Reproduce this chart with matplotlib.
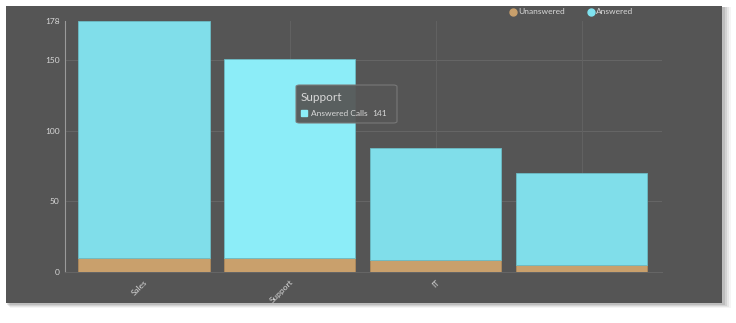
import numpy as np
import matplotlib
matplotlib.use('Agg')
import matplotlib.pyplot as plt
from matplotlib.patches import Rectangle, FancyBboxPatch

plt.rcParams['font.family'] = ['Lato', 'DejaVu Sans']

# dane
categories = ['Sales', 'Support', 'IT', '']
unanswered = [10, 10, 8, 5]
answered = [168, 141, 80, 65]
y_ticks = [0, 50, 100, 150, 178]

tooltip_idx = 1
panel = '#555555'
cyan = '#80deea'
cyan_hi = '#8cedf8'
tan = '#c9a06c'
txt = '#d8d8d8'

W, H = 736, 323
fig = plt.figure(figsize=(W / 100, H / 100), dpi=100)
fig.patch.set_facecolor('white')

# cień + ciemny panel
for i, a in enumerate([0.04, 0.06, 0.08, 0.10]):
    d = 4 - i
    fig.patches.append(Rectangle(((6 + d) / W, (H - 304 - d) / H), (717 + d) / W, (297 + d) / H,
                                 transform=fig.transFigure, facecolor='black', alpha=a,
                                 edgecolor='none', zorder=0))
fig.patches.append(Rectangle((6 / W, (H - 303) / H), 716 / W, 297 / H,
                             transform=fig.transFigure, facecolor=panel,
                             edgecolor='none', zorder=1))

ax = fig.add_axes([65 / W, (H - 271.7) / H, (662 - 65) / W, (271.7 - 20.5) / H])
ax.set_facecolor('none')
ax.set_zorder(2)

x = np.arange(len(categories))
top_colors = [cyan_hi if i == tooltip_idx else cyan for i in range(len(categories))]
ax.bar(x, unanswered, width=0.9, color=tan, edgecolor='#b08a5c', linewidth=0.6, zorder=3)
ax.bar(x, answered, bottom=unanswered, width=0.9, color=top_colors,
       edgecolor='#6cbcc6', linewidth=0.6, zorder=3)

ax.set_xlim(-0.54, 3.55)
ax.set_ylim(0, 178)

for v in [50, 100, 150]:
    ax.axhline(v, color='#666666', lw=0.7, zorder=1)
for xi in x:
    ax.axvline(xi, color='#626262', lw=0.7, zorder=1)

for s in ['top', 'right']:
    ax.spines[s].set_visible(False)
ax.spines['left'].set_color('#9a9a9a')
ax.spines['left'].set_linewidth(0.8)
ax.spines['bottom'].set_color('#666666')
ax.spines['bottom'].set_linewidth(0.7)

ax.set_yticks(y_ticks)
ax.set_yticklabels([str(t) for t in y_ticks], fontsize=6, color=txt)
ax.tick_params(axis='y', length=0, pad=4)
ax.set_xticks(x)
ax.set_xticklabels(categories, rotation=45, ha='right', va='top', fontsize=6, color=txt,
                   rotation_mode='anchor')
ax.tick_params(axis='x', length=0, pad=5)

# legenda
fig.text(518 / W, 1 - 12 / H, 'Unanswered', fontsize=6, color=txt, va='center')
fig.text(596 / W, 1 - 12 / H, 'Answered', fontsize=6, color=txt, va='center')
fig.lines.append(plt.Line2D([513 / W], [1 - 12 / H], marker='o', ms=5, color=tan,
                            transform=fig.transFigure, zorder=5))
fig.lines.append(plt.Line2D([591 / W], [1 - 12 / H], marker='o', ms=5, color='#7fe3f0',
                            transform=fig.transFigure, zorder=5))

# tooltip
fig.patches.append(FancyBboxPatch((296 / W, (H - 123) / H), 101 / W, 38 / H,
                                  boxstyle='round,pad=0,rounding_size=0.005',
                                  transform=fig.transFigure, facecolor='#575757',
                                  edgecolor='#7a7a7a', lw=0.8, alpha=0.95, zorder=6))
fig.text(301 / W, 1 - 98 / H, categories[tooltip_idx], fontsize=8.5, color=txt,
         va='center', zorder=7)
fig.lines.append(plt.Line2D([304 / W], [1 - 113 / H], marker='s', ms=4, color=cyan_hi,
                            transform=fig.transFigure, zorder=7))
fig.text(311 / W, 1 - 113 / H, 'Answered Calls', fontsize=6, color=txt, va='center', zorder=7)
fig.text(372 / W, 1 - 113 / H, str(answered[tooltip_idx]), fontsize=6, color=txt,
         va='center', zorder=7)

fig.savefig('out.png', dpi=100, facecolor=fig.get_facecolor())
